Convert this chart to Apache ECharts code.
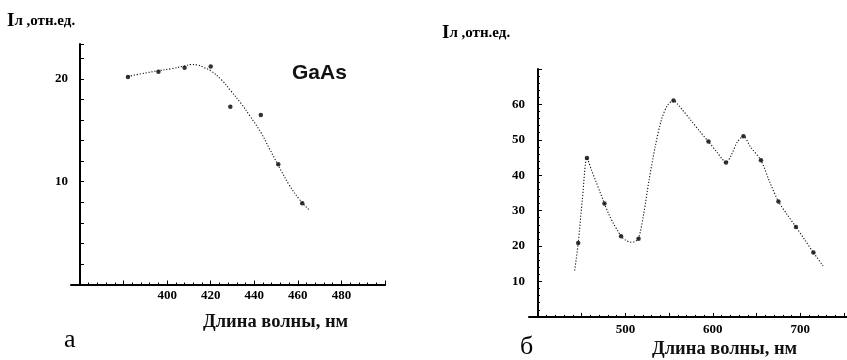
<!DOCTYPE html>
<html>
<head>
<meta charset="utf-8">
<script src="https://cdn.jsdelivr.net/npm/echarts@6.0.0/dist/echarts.min.js"></script>
<style>
  html, body { margin: 0; padding: 0; background: #fff; }
  #chart { width: 847px; height: 360px; }
</style>
</head>
<body>
<div id="chart"></div>
<script>
// панель а: GaAs
const waveA = [382, 396, 408, 420, 429, 443, 451, 462];
const intensityA = [20.2, 20.7, 21.1, 21.2, 17.3, 16.5, 11.7, 7.9];
// аппроксимирующая кривая (точки)
const fitWaveA = [382, 388, 396, 402, 408, 411, 414, 417, 420, 425, 429, 434, 438, 443, 447, 452, 456, 461, 465];
const fitIntensityA = [20.24, 20.5, 20.8, 21.0, 21.26, 21.4, 21.36, 21.1, 20.8, 19.9, 18.9, 17.6, 16.4, 14.8, 13.2, 11.2, 9.7, 8.2, 7.3];
const xTicksA = [400, 420, 440, 460, 480];
const yTicksA = [10, 20];

// панель б
const waveB = [446, 456, 476, 495, 515, 555, 595, 615, 635, 655, 675, 695, 715];
const intensityB = [20.9, 44.9, 32.0, 22.8, 22.1, 61.1, 49.5, 43.6, 51.0, 44.2, 32.6, 25.4, 18.2];
const fitWaveB = [442, 446, 451, 456, 461, 466, 471, 476, 481, 486, 491, 495, 500, 506, 511, 515,
  521, 527, 534, 541, 548, 555, 560, 565, 575, 585, 595, 605, 610, 615, 621, 628, 635, 643, 655,
  665, 675, 685, 695, 705, 715, 726];
const fitIntensityB = [13.1, 20.9, 33.8, 44.9, 41.6, 38.4, 35.2, 32.0, 29.0, 26.5, 24.4, 22.8, 21.7, 21.1, 21.3, 22.1,
  29.2, 38.6, 48.0, 55.5, 59.7, 61.1, 60.0, 58.5, 55.5, 52.4, 49.5, 46.4, 44.8, 43.6, 45.6, 49.4, 51.0, 48.0, 44.2,
  38.1, 32.6, 28.9, 25.4, 21.8, 18.2, 14.4];
const xTicksB = [500, 600, 700];
const yTicksB = [10, 20, 30, 40, 50, 60];

const zip = (xs, ys) => xs.map((x, i) => [x, ys[i]]);

const serif = 'Liberation Serif';
const labelFont = { color: '#000', fontFamily: serif, fontWeight: 'bold', fontSize: 13 };
const blackLine = { lineStyle: { color: '#000', width: 2 } };

function mainAxis(gridIndex, min, max, interval, ticks, margin, minorSplit) {
  return {
    type: 'value', gridIndex, min, max, interval,
    axisLine: { show: true, onZero: false, ...blackLine },
    axisTick: { show: true, inside: true, length: 4, lineStyle: { color: '#000', width: 1 } },
    minorTick: { show: minorSplit > 0, splitNumber: minorSplit || 5, length: 2, lineStyle: { color: '#000', width: 1 } },
    splitLine: { show: false },
    axisLabel: {
      ...labelFont, margin,
      formatter: v => (ticks.indexOf(Math.round(v * 10) / 10) >= 0 ? String(v) : '')
    }
  };
}

// короткий отрезок оси X левее оси Y (как в исходном графике)
function stubAxis(gridIndex) {
  return {
    type: 'value', gridIndex, min: 0, max: 1,
    axisLine: { show: true, onZero: false, ...blackLine },
    axisTick: { show: false }, axisLabel: { show: false }, splitLine: { show: false }
  };
}

const hiddenY = gridIndex => ({ type: 'value', gridIndex, show: false, min: 0, max: 1 });

const titleRich = {
  i: { fontFamily: serif, fontWeight: 'bold', fontSize: 19, color: '#000' },
  r: { fontFamily: serif, fontWeight: 'bold', fontSize: 15, color: '#000' }
};
const xName = { fontFamily: serif, fontWeight: 'bold', fontSize: 18.5, color: '#111' };
const panelName = { fontFamily: serif, fontWeight: 'normal', fontSize: 26, color: '#000' };
const fitLine = { color: '#111', width: 1.1, type: [1.2, 1.8] };

const option = {
  animation: false,
  backgroundColor: '#fff',
  title: [
    { text: '{i|I}{r|л ,отн.ед.}', left: 7, top: 12, padding: 0, textStyle: { rich: titleRich } },
    { text: '{i|I}{r|л ,отн.ед.}', left: 442, top: 24, padding: 0, textStyle: { rich: titleRich } },
    { text: 'GaAs', left: 292, top: 63, padding: 0,
      textStyle: { fontFamily: 'Liberation Sans', fontWeight: 'bold', fontSize: 21, color: '#111' } },
    { text: 'Длина волны, нм', left: 203, top: 313, padding: 0, textStyle: xName },
    { text: 'Длина волны, нм', left: 652, top: 340, padding: 0, textStyle: xName },
    { text: 'а', left: 64, top: 327, padding: 0, textStyle: panelName },
    { text: 'б', left: 520, top: 334, padding: 0, textStyle: panelName }
  ],
  grid: [
    { left: 80, top: 44, width: 305, height: 240.5 },
    { left: 71, top: 44, width: 314, height: 240.5 },
    { left: 538, top: 69, width: 315.8, height: 247.9 },
    { left: 529, top: 69, width: 324.8, height: 247.9 }
  ],
  xAxis: [
    mainAxis(0, 360, 500, 20, xTicksA, 5, 5),
    stubAxis(1),
    mainAxis(2, 400, 750, 50, xTicksB, 6, 5),
    stubAxis(3)
  ],
  yAxis: [
    mainAxis(0, 0, 23.4, 2, yTicksA, 12, 0),
    hiddenY(1),
    mainAxis(2, 0, 70, 10, yTicksB, 13, 5),
    hiddenY(3)
  ],
  series: [
    {
      type: 'line', xAxisIndex: 0, yAxisIndex: 0, data: zip(fitWaveA, fitIntensityA),
      smooth: 0.4, showSymbol: false, silent: true, lineStyle: fitLine
    },
    {
      type: 'scatter', xAxisIndex: 0, yAxisIndex: 0, data: zip(waveA, intensityA),
      symbolSize: 4.5, itemStyle: { color: '#000' }
    },
    {
      type: 'line', xAxisIndex: 2, yAxisIndex: 2, data: zip(fitWaveB, fitIntensityB),
      smooth: 0.3, showSymbol: false, silent: true, lineStyle: fitLine
    },
    {
      type: 'scatter', xAxisIndex: 2, yAxisIndex: 2, data: zip(waveB, intensityB),
      symbolSize: 4.5, itemStyle: { color: '#000' }
    }
  ]
};

const chart = echarts.init(document.getElementById('chart'), null, { renderer: 'canvas' });
chart.setOption(option);
</script>
</body>
</html>
